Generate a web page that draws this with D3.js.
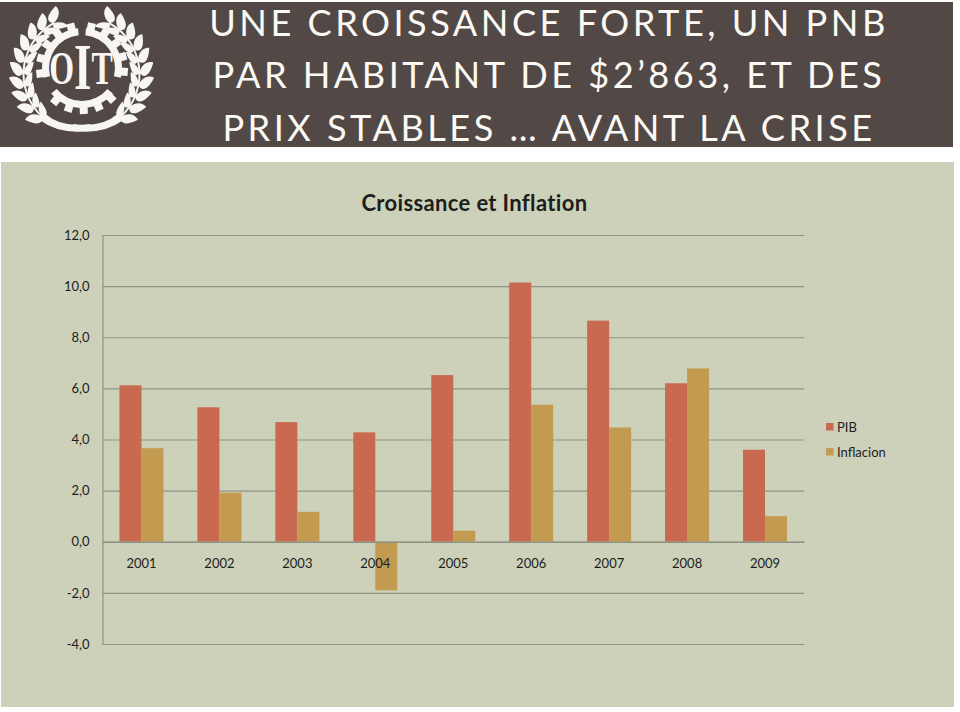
<!DOCTYPE html>
<html><head><meta charset="utf-8">
<script src="https://cdn.jsdelivr.net/npm/d3@7"></script>
<style>
html,body{margin:0;padding:0;background:#fff}
svg{display:block}
text{font-family:Lato,"Open Sans",sans-serif}
</style></head><body>
<svg id="c" width="960" height="712"></svg>
<script>
const years=["2001","2002","2003","2004","2005","2006","2007","2008","2009"];
const pib=[6.12,5.26,4.68,4.28,6.52,10.14,8.65,6.2,3.6];
const inflacion=[3.66,1.92,1.17,-1.9,0.43,5.36,4.47,6.78,1.0];
const seriesNames=["PIB","Inflacion"];
const seriesColors=["#c96a50","#c29a50"];
const yTicks=[-4,-2,0,2,4,6,8,10,12];
const titleLines=["UNE CROISSANCE FORTE, UN PNB","PAR HABITANT DE $2’863, ET DES","PRIX STABLES … AVANT LA CRISE"];
const titleY=[36,88,141];
const chartTitle="Croissance et Inflation";

const svg=d3.select("#c");
svg.append("rect").attr("x",0).attr("y",2).attr("width",953).attr("height",145).attr("fill","#524846");
svg.append("rect").attr("x",1).attr("y",162).attr("width",953).attr("height",545).attr("fill","#cdd1b9");

// heading
svg.selectAll("text.head").data(titleLines).join("text").attr("class","head")
 .attr("transform",(d,i)=>`translate(549,${titleY[i]}) scale(1.02,1.04)`).attr("text-anchor","middle")
 .attr("fill","#fbf9f4").style("font-size","35.5px").style("font-weight","400").style("letter-spacing","3.4px").text(d=>d);

// logo
const white="#f8f6f2";
const logo=svg.append("g").attr("transform","translate(82,68)");
const arc=d3.arc();
const ringArcs=[[-1.82,-0.1],[0.1,1.82],[2.26,4.02]];
ringArcs.forEach(([a,b])=>{
  logo.append("path").attr("d",arc({innerRadius:33,outerRadius:40,startAngle:a,endAngle:b})).attr("fill",white);
});
const teeth=ringArcs.flatMap(([a,b])=>d3.range(a+0.12,b,0.36));
logo.selectAll("rect.t").data(teeth).join("rect").attr("class","t")
 .attr("x",-4).attr("y",-46).attr("width",8).attr("height",7).attr("fill",white)
 .attr("transform",d=>`rotate(${d*180/Math.PI})`);
// laurel: stem and slanted leaves
const wreath=svg.append("g").attr("transform","translate(81.5,74)");
const leafAngles=d3.range(0.5,2.5,0.21);
[1,-1].forEach(s=>{
  const g=wreath.append("g").attr("transform",`scale(${s},1)`);
  g.append("path").attr("d",arc({innerRadius:57,outerRadius:59,startAngle:0.5,endAngle:2.55})).attr("fill",white);
  g.selectAll("path.o").data(leafAngles).join("path").attr("class","o")
   .attr("d","M0,-58 C6,-62 4,-68 -10,-72 C-12,-66 -8,-60 0,-58Z")
   .attr("fill",white).attr("transform",d=>`rotate(${d*180/Math.PI})`);
  g.selectAll("path.n").data(leafAngles).join("path").attr("class","n")
   .attr("d","M0,-58 C5,-54 2,-50 -11,-48 C-11,-53 -6,-57 0,-58Z")
   .attr("fill",white).attr("transform",d=>`rotate(${d*180/Math.PI})`);
  g.append("path").attr("d","M36,40 Q20,54 -8,50 L-12,56 Q20,62 42,46Z").attr("fill",white);
});
// initials: one text, the middle letter taller
const initials=logo.append("text").attr("transform","translate(-1,0) scale(0.68,1)").attr("text-anchor","middle").attr("y",16)
 .attr("fill",white).style("font-family","'Liberation Serif',serif").style("font-weight","700").style("font-size","47px");
initials.append("tspan").text("O");
initials.append("tspan").attr("dy",5).style("font-size","66px").text("I");
initials.append("tspan").attr("dy",-5).text("T");

// chart
const margin={left:102.5,right:804,top:235,bottom:644};
const y=d3.scaleLinear().domain([-4,12]).range([margin.bottom,margin.top]);
const x=d3.scaleBand().domain(years).range([margin.left,margin.right]);
const barW=22;
const gridColor="#8f9384";

svg.append("text").attr("x",474.5).attr("y",211).attr("text-anchor","middle")
 .attr("fill","#1d1d1d").style("font-size","22px").style("font-weight","700").style("letter-spacing","0.35px").text(chartTitle);

const yAxis=d3.axisLeft(y).tickValues(yTicks).tickSize(-(margin.right-margin.left)).tickPadding(13)
  .tickFormat(d=>d3.format(".1f")(d).replace(".",",").replace("−","-"));
const gy=svg.append("g").attr("transform",`translate(${margin.left},0)`).call(yAxis);
gy.select(".domain").attr("stroke",gridColor).attr("stroke-width",1.2);
gy.selectAll(".tick line").attr("stroke",gridColor).attr("stroke-width",1.2);
gy.selectAll(".tick text").attr("fill","#1d1d1d").style("font-size","13px").style("font-family","Lato");

[pib,inflacion].forEach((vals,si)=>{
  svg.append("g").selectAll("rect").data(vals).join("rect")
   .attr("x",(d,i)=>x(years[i])+x.bandwidth()/2-barW+si*barW)
   .attr("width",barW)
   .attr("y",d=>y(Math.max(0,d)))
   .attr("height",d=>Math.abs(y(d)-y(0)))
   .attr("fill",seriesColors[si]);
});

const xAxis=d3.axisBottom(x).tickSize(0).tickPadding(17);
const gx=svg.append("g").attr("transform",`translate(0,${y(0)})`).call(xAxis);
gx.select(".domain").attr("stroke",gridColor).attr("stroke-width",1.4);
gx.selectAll(".tick text").attr("fill","#1d1d1d").style("font-size","13px").style("font-family","Lato");

// legend
const lg=svg.append("g").selectAll("g").data(seriesNames).join("g")
 .attr("transform",(d,i)=>`translate(826,${423+i*25})`);
lg.append("rect").attr("width",7.5).attr("height",7.5).attr("fill",(d,i)=>seriesColors[i]);
lg.append("text").attr("x",11).attr("y",8.5).attr("fill","#1d1d1d").style("font-size","13px").style("font-family","Lato").text(d=>d);
</script></body></html>
